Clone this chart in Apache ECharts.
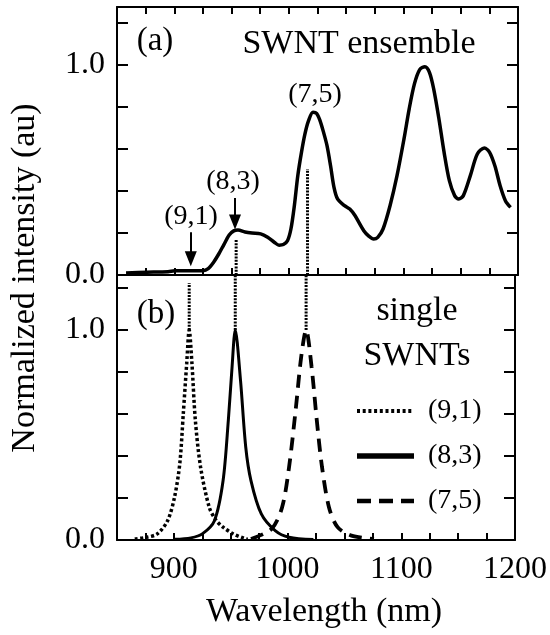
<!DOCTYPE html>
<html><head><meta charset="utf-8">
<script src="https://cdn.jsdelivr.net/npm/echarts@6/dist/echarts.min.js"></script>
<style>html,body{margin:0;padding:0;background:#fff}#c{width:550px;height:635px}</style>
</head><body><div id="c"></div>
<script>
// ---- data ----
const ensembleNm = [857.9,876.2,894.5,900.6,925,929.6,934.2,938.8,943.3,947.9,951.9,955.6,961.7,967.8,975.4,981.5,987.5,991.5,995.2,998.8,1001.8,1004.8,1007.8,1011,1014,1017.2,1021.1,1024.2,1027.2,1030.3,1033.3,1036.4,1039.4,1042.5,1048.6,1053.2,1057.7,1065.4,1070,1074,1077.6,1082.2,1088.3,1094.4,1100.5,1105,1109.6,1114.2,1118.8,1122.7,1126.4,1131,1135.5,1140.1,1144.7,1148.3,1152.3,1158.4,1164.5,1170.6,1175.2,1179.8,1184.4,1189,1193.5];
const ensembleI  = [0.010,0.013,0.016,0.020,0.020,0.030,0.060,0.100,0.145,0.190,0.210,0.214,0.205,0.200,0.196,0.180,0.155,0.142,0.145,0.163,0.219,0.330,0.473,0.584,0.671,0.735,0.775,0.770,0.735,0.679,0.616,0.520,0.417,0.362,0.330,0.314,0.283,0.211,0.184,0.171,0.179,0.219,0.330,0.473,0.648,0.790,0.910,0.978,0.992,0.965,0.886,0.743,0.584,0.449,0.378,0.362,0.378,0.473,0.576,0.605,0.584,0.520,0.425,0.354,0.322];

const s91Nm = [865.6,875,885.4,894.5,900.6,905.2,908.3,911.3,913.5,915.9,918.9,923.5,931.1,937,943.3,952,961.7,965];
const s91I  = [0.005,0.012,0.029,0.092,0.204,0.363,0.602,0.841,1.0,0.841,0.570,0.347,0.156,0.095,0.061,0.030,0.008,0.004];

const s83Nm = [900.6,915,925,935.7,943.3,947.9,951,954,958.6,963.2,967.8,976.9,989.1,1001.3,1022.7];
const s83I  = [0.003,0.010,0.029,0.092,0.283,0.570,0.809,1.0,0.761,0.443,0.283,0.124,0.045,0.013,0.002];

const s75Nm = [967.8,986,995.2,1001.3,1007.4,1012,1016.3,1021.1,1025.7,1030.3,1036.4,1044,1056.2,1076];
const s75I  = [0.005,0.053,0.156,0.347,0.634,0.873,1.0,0.825,0.570,0.347,0.156,0.061,0.021,0.005];

// vertical guide lines: wavelength, top-panel span, bottom-panel span
const guideNm     = [913.5, 954, 1016.3];
const guideTop    = [null, [0, 0.171], [0, 0.505]];
const guideBottom = [[1.0, 1.224], [1.0, 1.262], [1.0, 1.262]];

// arrows in panel (a)
const arrowNm   = [914.4, 953];
const arrowFrom = [0.203, 0.367];
const arrowTo   = [0.044, 0.219];

const xTickLabels = [900, 1000, 1100, 1200];
const yTickLabels = [0, 1];
const legendLabels = ['(9,1)', '(8,3)', '(7,5)'];

// ---- chart ----
const zip = (a, b) => a.map((v, i) => [v, b[i]]);
const FONT = 'Liberation Serif';
const K = '#000';
const X0 = 850, X1 = 1200, YT = 1.276, YB = 1.262;

function xAx(grid, pos, labels, ticks) {
  return {
    type: 'value', gridIndex: grid, position: pos, min: X0, max: X1, interval: 25,
    axisLine: { show: true, onZero: false, lineStyle: { color: K, width: 2 } },
    axisTick: { show: ticks, inside: true, length: 7, lineStyle: { color: K, width: 2 } },
    axisLabel: labels ? {
      show: true, margin: 14, color: K, fontFamily: FONT, fontSize: 32,
      formatter: v => xTickLabels.indexOf(Math.round(v)) >= 0 && Math.abs(v - Math.round(v)) < 1e-6 ? String(Math.round(v)) : ''
    } : { show: false },
    splitLine: { show: false }
  };
}
function yAx(grid, pos, max, labels) {
  return {
    type: 'value', gridIndex: grid, position: pos, min: 0, max: max, interval: 0.2,
    axisLine: { show: true, onZero: false, lineStyle: { color: K, width: 2 } },
    axisTick: { show: true, inside: true, length: 11, lineStyle: { color: K, width: 2 } },
    axisLabel: labels ? {
      show: true, margin: 12, color: K, fontFamily: FONT, fontSize: 32,
      formatter: v => { for (const t of yTickLabels) if (Math.abs(v - t) < 1e-6) return t.toFixed(1); return ''; }
    } : { show: false },
    splitLine: { show: false }
  };
}

const series = [];
series.push({
  type: 'line', xAxisIndex: 0, yAxisIndex: 0, data: zip(ensembleNm, ensembleI),
  showSymbol: false, smooth: 0.3, lineStyle: { color: K, width: 3.5 }, z: 5,
  markLine: {
    silent: true, symbol: ['none', 'triangle'], symbolSize: [12, 15],
    label: { show: false }, lineStyle: { color: K, width: 2, type: 'solid' },
    emphasis: { disabled: true },
    data: arrowNm.map((x, i) => [{ coord: [x, arrowFrom[i]] }, { coord: [x, arrowTo[i] + 7 / 210] }])
  }
});
series.push({ type: 'line', xAxisIndex: 2, yAxisIndex: 2, data: zip(s91Nm, s91I), showSymbol: false, smooth: 0.3,
  lineStyle: { color: K, width: 3.5, type: [3, 2.5] } });
series.push({ type: 'line', xAxisIndex: 2, yAxisIndex: 2, data: zip(s83Nm, s83I), showSymbol: false, smooth: 0.3,
  lineStyle: { color: K, width: 3 } });
series.push({ type: 'line', xAxisIndex: 2, yAxisIndex: 2, data: zip(s75Nm, s75I), showSymbol: false, smooth: 0.3,
  lineStyle: { color: K, width: 3.8, type: [13, 8] } });

guideNm.forEach((x, i) => {
  if (guideTop[i]) series.push({ type: 'line', xAxisIndex: 0, yAxisIndex: 0, showSymbol: false,
    data: [[x, guideTop[i][0]], [x, guideTop[i][1]]], lineStyle: { color: K, width: 3, type: [2, 1.3] }, z: 3 });
  series.push({ type: 'line', xAxisIndex: 2, yAxisIndex: 2, showSymbol: false,
    data: [[x, guideBottom[i][0]], [x, guideBottom[i][1]]], lineStyle: { color: K, width: 3, type: [2, 1.3] }, z: 3 });
});

function txt(x, y, s, size, align, rot) {
  return { type: 'text', x: x, y: y, rotation: rot || 0, silent: true,
    style: { text: s, fill: K, font: size + 'px "' + FONT + '"', textAlign: align || 'center', textVerticalAlign: 'middle' } };
}
const legendY = [411, 456, 501];
const legendDash = [[3, 2.7], null, [14, 8]];
const legendW = [4, 5.5, 4.5];
const graphics = [
  txt(25, 278, 'Normalized intensity (au)', 34, 'center', Math.PI / 2),
  txt(324, 612, 'Wavelength (nm)', 34),
  txt(155, 41, '(a)', 33),
  txt(359, 44, 'SWNT ensemble', 34),
  txt(156, 314, '(b)', 33),
  txt(417, 311, 'single', 34),
  txt(417, 356, 'SWNTs', 34),
  txt(191, 217, '(9,1)', 28),
  txt(233, 182, '(8,3)', 28),
  txt(315, 95, '(7,5)', 28)
];
legendLabels.forEach((s, i) => {
  graphics.push({ type: 'line', silent: true, shape: { x1: 357, y1: legendY[i], x2: 414, y2: legendY[i] },
    style: { stroke: K, lineWidth: legendW[i], lineDash: legendDash[i] || null } });
  graphics.push(txt(428, legendY[i], s, 28, 'left'));
});

const chart = echarts.init(document.getElementById('c'), null, { renderer: 'canvas' });
chart.setOption({
  animation: false,
  backgroundColor: '#fff',
  grid: [
    { left: 117, top: 7, width: 401, height: 268, containLabel: false },
    { left: 117, top: 275, width: 401, height: 265, containLabel: false }
  ],
  xAxis: [xAx(0, 'bottom', false, true), xAx(0, 'top', false, true), xAx(1, 'bottom', true, true), xAx(1, 'top', false, false)],
  yAxis: [yAx(0, 'left', YT, true), yAx(0, 'right', YT, false), yAx(1, 'left', YB, true), yAx(1, 'right', YB, false)],
  series: series,
  graphic: graphics
});
</script></body></html>
